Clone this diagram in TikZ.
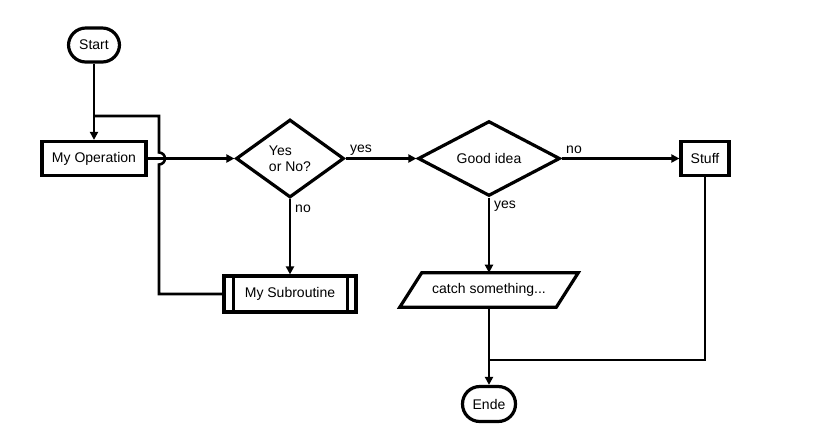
\documentclass[tikz,border=0pt]{standalone}
\usepackage{fontspec}
\setmainfont{Liberation Sans}
\usetikzlibrary{shapes.geometric,arrows.meta}
\begin{document}
\begin{tikzpicture}[x=0.75pt,y=-0.75pt,
  every node/.style={font=\fontsize{10.5pt}{12pt}\selectfont},
  box/.style={draw, line width=2.4pt, inner sep=0pt},
  rect/.style={box, rectangle},
  term/.style={box, rectangle, rounded corners=13pt},
  dia/.style={box, diamond},
  conn/.style={line width=1.9pt},
  arr/.style={conn, -{Triangle[length=6pt,width=6pt]}},
  lbl/.style={inner sep=0pt}]
\useasboundingbox (0,0) rectangle (816,425);

% nodes
\node[term, minimum width=38.25pt, minimum height=25.5pt] (start) at (94,45) {Start};
\node[rect, minimum width=78pt, minimum height=25.5pt] (op) at (94,158.5) {My Operation};
\node[dia, minimum width=81pt, minimum height=58.5pt, align=left] (yn) at (290,158.5) {Yes\\or No?};
\node[dia, minimum width=106.5pt, minimum height=51.75pt] (good) at (489,158.5) {Good idea};
\node[rect, minimum width=36pt, minimum height=25.5pt] (stuff) at (705,158.5) {Stuff};
\node[rect, minimum width=99pt, minimum height=27pt] (sub) at (290,294) {My Subroutine};
\node[inner sep=0pt, minimum width=117pt, minimum height=25.5pt] (catch) at (489,290) {catch something...};
\node[term, minimum width=39.75pt, minimum height=26.25pt] (ende) at (489,404) {Ende};

% subroutine inner bars
\draw[conn] ([xshift=8.25pt]sub.north west) -- ([xshift=8.25pt]sub.south west);
\draw[conn] ([xshift=-7.5pt]sub.north east) -- ([xshift=-7.5pt]sub.south east);

% parallelogram
\draw[box] ([xshift=8.25pt]catch.north west) -- ([xshift=8.25pt]catch.north east)
  -- ([xshift=-8.25pt]catch.south east) -- ([xshift=-8.25pt]catch.south west) -- cycle;

% labels
\node[lbl] (l1) at (361,150) {yes};
\node[lbl] (l2) at (303,209) {no};
\node[lbl] (l3) at (574,150) {no};
\node[lbl] (l4) at (505,206) {yes};

% connectors
\coordinate (j1) at (94,116);
\coordinate (j2) at (489,360);
\draw[arr] (start) -- (op);
\draw[arr] (op) -- (yn);
\draw[arr] (yn) -- (good);
\draw[arr] (yn) -- (sub);
\draw[arr] (good) -- (stuff);
\draw[arr] (good) -- (catch.north -| good.south);
\draw[arr] (catch.south) -- (ende);
\draw[conn] (stuff.south) |- (j2);
\draw[conn] (sub.west) -- (159,294) -- (159,164.5)
  arc[start angle=-90, end angle=90, radius=4.5pt] -- (159,116) -- (j1);
\end{tikzpicture}
\end{document}
